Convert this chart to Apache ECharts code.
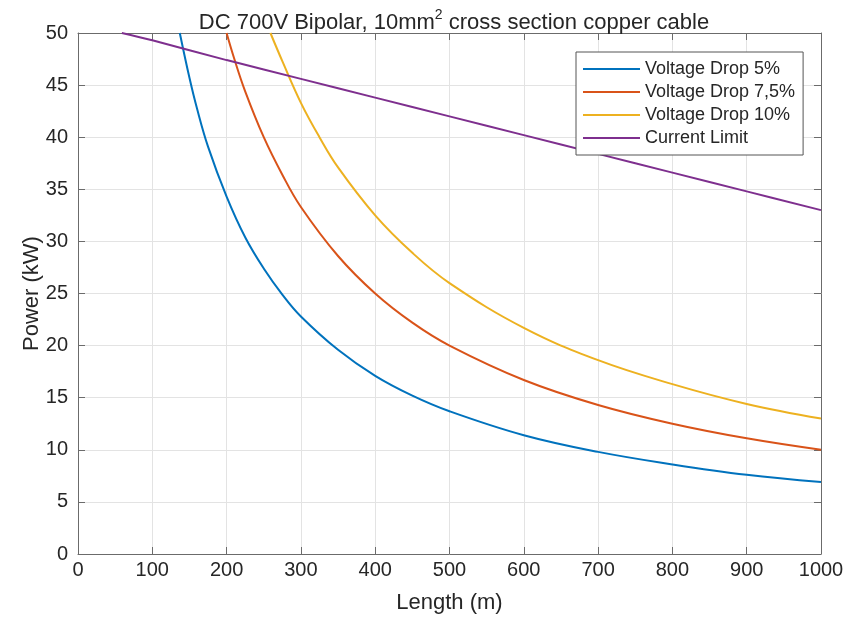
<!DOCTYPE html>
<html>
<head>
<meta charset="utf-8">
<script src="https://cdn.jsdelivr.net/npm/echarts@6/dist/echarts.min.js"></script>
<style>
  html, body { margin: 0; padding: 0; background: #fff; }
  #chart { width: 859px; height: 617px; }
</style>
</head>
<body>
<div id="chart"></div>
<script>
// values
var seriesNames = ['Voltage Drop 5%', 'Voltage Drop 7,5%', 'Voltage Drop 10%', 'Current Limit'];
var colors = ['#0072BD', '#D95319', '#EDB120', '#7E2F8E'];

var len5 = [137, 150, 160, 175, 200, 225, 250, 275, 300, 350, 400, 450, 500, 600, 700, 800, 900, 1000];
var pow5 = [50, 45.7, 42.8, 39.1, 34.3, 30.4, 27.4, 24.9, 22.8, 19.6, 17.1, 15.2, 13.7, 11.4, 9.8, 8.6, 7.6, 6.9];

var len75 = [200, 210, 225, 250, 275, 300, 350, 400, 450, 500, 600, 700, 800, 900, 1000];
var pow75 = [50, 47.6, 44.4, 40, 36.4, 33.3, 28.6, 25, 22.2, 20, 16.7, 14.3, 12.5, 11.1, 10];

var len10 = [259, 275, 300, 325, 350, 400, 450, 500, 600, 700, 800, 900, 1000];
var pow10 = [50, 47.3, 43.3, 40, 37.1, 32.5, 28.9, 26, 21.7, 18.6, 16.3, 14.4, 13];

var lenI = [59, 100, 200, 300, 400, 500, 600, 700, 800, 900, 1000];
var powI = [50, 49.3, 47.4, 45.6, 43.8, 42.0, 40.2, 38.4, 36.6, 34.8, 33];

function zip(xs, ys) {
    var out = [];
    for (var i = 0; i < xs.length; i++) out.push([xs[i], ys[i]]);
    return out;
}

var allData = [zip(len5, pow5), zip(len75, pow75), zip(len10, pow10), zip(lenI, powI)];

var font = 'Liberation Sans, Arial, sans-serif';
var axisCol = '#6b6b6b';
var txtCol = '#262626';

var mychart = echarts.init(document.getElementById('chart'));

function mainAxis(pos, name, max, interval, gap, margin) {
    return {
        type: 'value', position: pos, min: 0, max: max, interval: interval,
        name: name, nameLocation: 'middle', nameGap: gap, nameMoveOverlap: false,
        nameTextStyle: { fontFamily: font, fontSize: 22, color: txtCol },
        axisLine: { show: true, onZero: false, lineStyle: { color: axisCol, width: 1 } },
        axisTick: { show: true, inside: true, length: 7, lineStyle: { color: axisCol } },
        axisLabel: { fontFamily: font, fontSize: 20, color: txtCol, margin: margin,
                     formatter: function (v) { return String(v); } },
        splitLine: { show: true, lineStyle: { color: '#e3e3e3', width: 1 } }
    };
}
function mirrorAxis(pos, max, interval) {
    return {
        type: 'value', position: pos, min: 0, max: max, interval: interval,
        axisLine: { show: true, onZero: false, lineStyle: { color: axisCol, width: 1 } },
        axisTick: { show: true, inside: true, length: 7, lineStyle: { color: axisCol } },
        axisLabel: { show: false },
        splitLine: { show: false }
    };
}

var option = {
    backgroundColor: '#fff',
    animation: false,
    title: {
        text: '{a|DC 700V Bipolar, 10mm}{s|2}{a| cross section copper cable}',
        left: 449, textAlign: 'center', top: 3,
        textStyle: {
            fontWeight: 'normal',
            rich: {
                a: { fontFamily: font, fontSize: 22, fontWeight: 'normal', color: txtCol, verticalAlign: 'bottom' },
                s: { fontFamily: font, fontSize: 14, fontWeight: 'normal', color: txtCol, verticalAlign: 'top', padding: [0, 0, 12, 0] }
            }
        }
    },
    grid: { left: 78, right: 38, top: 33, bottom: 63, containLabel: false, outerBoundsMode: 'none' },
    xAxis: [mainAxis('bottom', 'Length (m)', 1000, 100, 38, 6), mirrorAxis('top', 1000, 100)],
    yAxis: [mainAxis('left', 'Power (kW)', 50, 5, 35, 10), mirrorAxis('right', 50, 5)],
    legend: {
        orient: 'vertical', left: 576, top: 52,
        data: seriesNames,
        icon: 'rect', itemWidth: 57, itemHeight: 2, itemGap: 5,
        padding: [8, 8, 8, 7],
        backgroundColor: '#fff', borderColor: '#555', borderWidth: 1, borderRadius: 0,
        textStyle: { fontFamily: font, fontSize: 18, color: txtCol, lineHeight: 18 }
    },
    series: allData.map(function (d, i) {
        return {
            name: seriesNames[i], type: 'line', data: d,
            smooth: 0.4, showSymbol: false, symbol: 'none',
            lineStyle: { color: colors[i], width: 2 },
            itemStyle: { color: colors[i] },
            xAxisIndex: 0, yAxisIndex: 0
        };
    })
};
mychart.setOption(option);
</script>
</body>
</html>
